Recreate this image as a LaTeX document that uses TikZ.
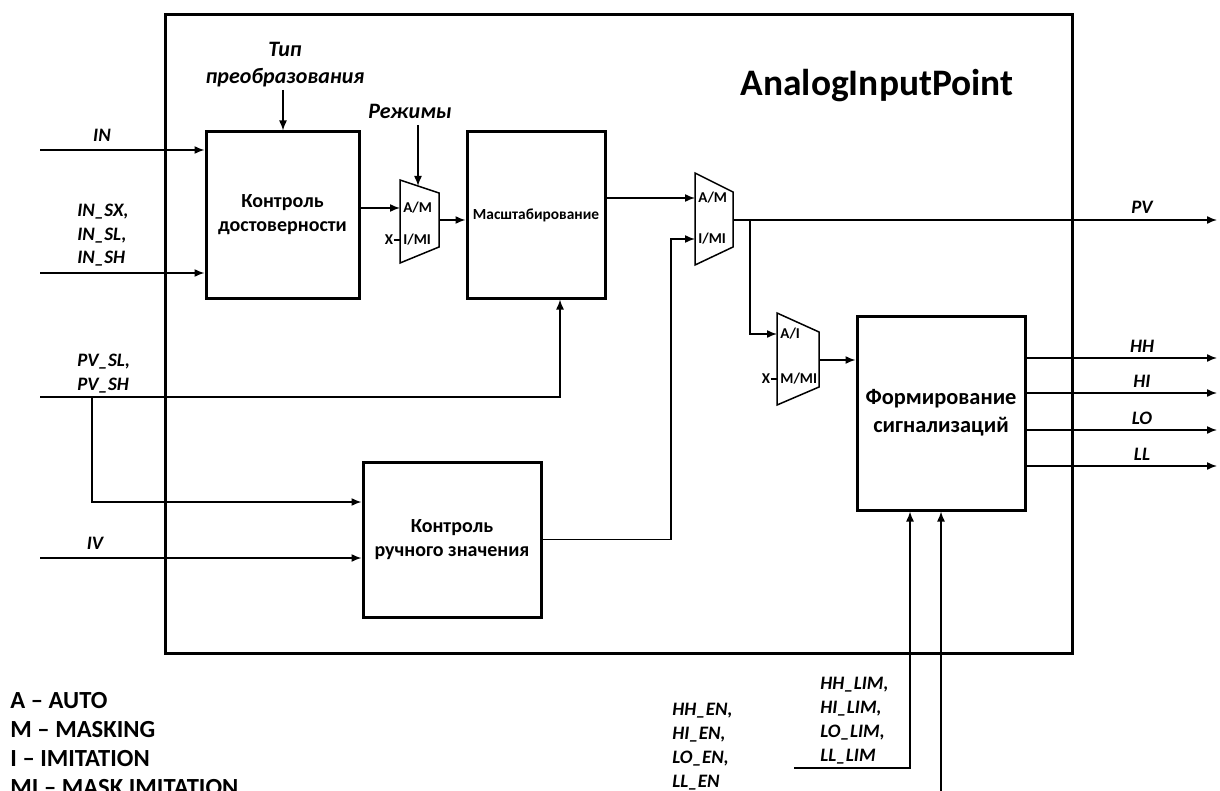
\documentclass[tikz,border=0pt]{standalone}
\usepackage{fontspec}
\setmainfont{Carlito}
\usetikzlibrary{arrows.meta}

\begin{document}
\begin{tikzpicture}[x=0.5pt,y=-0.5pt,
	blk/.style={draw,line width=1.5pt,align=center,inner sep=0pt,font=\bfseries\fontsize{10}{12}\selectfont},
	sig/.style={line width=0.75pt,-{Latex[length=5pt,width=4pt]}},
	wire/.style={line width=0.75pt},
	lbl/.style={inner sep=0pt,align=left,font=\bfseries\itshape\fontsize{9.5}{11.7}\selectfont},
	mtxt/.style={inner sep=0pt,font=\bfseries\fontsize{7.5}{8}\selectfont}]
	\useasboundingbox (0,0) rectangle (1220,791);
	
	\draw[line width=1.5pt] (165,15) rectangle (1072,653);
	\node[font=\bfseries\fontsize{18.7}{22}\selectfont] (title) at (877,86) {AnalogInputPoint};
	
	% blocks
	\node[blk,minimum width=76.5pt,minimum height=83pt] (kd) at (282.5,215) {Контроль\\достоверности};
	\node[blk,minimum width=69pt,minimum height=83pt,font=\bfseries\fontsize{7.7}{9}\selectfont] (msh) at (536,215) {Масштабирование};
	\node[blk,minimum width=89pt,minimum height=77.5pt] (krz) at (452,539.5) {Контроль\\ручного значения};
	\node[blk,minimum width=84pt,minimum height=97pt,font=\bfseries\fontsize{11.2}{14}\selectfont] (fs) at (941,413) {Формирование\\сигнализаций};
	
	% mux 1
	\draw[wire] (400,180) -- (439,193) -- (439,247) -- (400,263) -- cycle;
	\coordinate (m1a) at (400,208);
	\coordinate (m1b) at (400,240);
	\coordinate (m1o) at (439,220);
	\coordinate (m1t) at (418,186);
	\node[mtxt,anchor=west] (m1am) at (403,208) {A/M};
	\node[mtxt,anchor=west] (m1im) at (403,240) {I/MI};
	\node[mtxt] (x1) at (389,240) {X};
	\draw[wire] (x1.east) -- (m1b);
	
	% mux 2
	\draw[wire] (695,173) -- (733,192) -- (733,247) -- (695,265) -- cycle;
	\coordinate (m2a) at (695,198);
	\coordinate (m2b) at (695,239);
	\coordinate (m2o) at (733,220);
	\node[mtxt,anchor=west] (m2am) at (698,198) {A/M};
	\node[mtxt,anchor=west] (m2im) at (698,239) {I/MI};
	
	% mux 3
	\draw[wire] (777,313) -- (819,332) -- (819,387) -- (777,405) -- cycle;
	\coordinate (m3a) at (777,334);
	\coordinate (m3b) at (777,379);
	\coordinate (m3o) at (819,360);
	\node[mtxt,anchor=west] (m3ai) at (780,334) {A/I};
	\node[mtxt,anchor=west] (m3mm) at (780,379) {M/MI};
	\node[mtxt] (x3) at (766,379) {X};
	\draw[wire] (x3.east) -- (m3b);
	
	% top inputs
	\node[lbl,align=center,font=\bfseries\itshape\fontsize{11}{13.5}\selectfont] (tip) at (285,65) {Тип\\преобразования};
	\coordinate (tipa) at (283,90);
	\draw[sig] (tipa) -- (tipa |- kd.north);
	\node[lbl,font=\bfseries\itshape\fontsize{11}{13.5}\selectfont] (rez) at (410,111) {Режимы};
	\coordinate (reza) at (418,125);
	\draw[sig] (reza) -- (m1t);
	
	% main path
	\draw[sig] (kd.east |- m1a) -- (m1a);
	\draw[sig] (m1o) -- (m1o -| msh.west);
	\draw[sig] (msh.east |- m2a) -- (m2a);
	\coordinate (pvout) at (1217,220);
	\draw[sig] (m2o) -- (pvout);
	\node[lbl] (pv) at (1142,207) {PV};
	\coordinate (br) at (750,220);
	\draw[sig] (br) |- (m3a);
	\draw[sig] (m3o) -- (m3o -| fs.west);
	
	% left inputs
	\coordinate (in) at (40,150);
	\draw[sig] (in) -- (in -| kd.west);
	\node[lbl] (inl) at (102,135) {IN};
	\coordinate (insx) at (40,273);
	\draw[sig] (insx) -- (insx -| kd.west);
	\node[lbl,anchor=north west] (insxl) at (77,204) {IN\_SX,\\IN\_SL,\\IN\_SH};
	\coordinate (pvsl) at (40,397);
	\draw[sig] (pvsl) -| ([xshift=12pt]msh.south);
	\node[lbl,anchor=north west] (pvsll) at (77,354) {PV\_SL,\\PV\_SH};
	\coordinate (pvbr) at (92,397);
	\draw[sig] (pvbr) |- ([yshift=18.75pt]krz.west);
	\coordinate (iv) at (40,558);
	\draw[sig] (iv) -- (iv -| krz.west);
	\node[lbl] (ivl) at (95,543) {IV};
	
	% manual value to mux 2
	\coordinate (m2turn) at (671,239);
	\draw[sig] (krz.east) -| (m2turn) -- (m2b);
	
	% alarm outputs
	\foreach \y/\t in {358/HH,393/HI,430/LO,466/LL} {
		\draw[sig] (fs.east |- 0,\y) -- (1217,\y);
		\node[lbl] at (1142,\y-12) {\t};
	}
	
	% bottom inputs
	\coordinate (lim) at (794,768);
	\draw[sig] (lim) -| ([xshift=-15.5pt]fs.south);
	\coordinate (en) at (941,791);
	\draw[sig] (en) -- (fs.south);
	\node[lbl,anchor=north west,font=\bfseries\itshape\fontsize{9.5}{12}\selectfont] (liml) at (820,677) {HH\_LIM,\\HI\_LIM,\\LO\_LIM,\\LL\_LIM};
	\node[lbl,anchor=north west,font=\bfseries\itshape\fontsize{9.5}{12}\selectfont] (enl) at (672,703) {HH\_EN,\\HI\_EN,\\LO\_EN,\\LL\_EN};
	
	% legend
	\node[inner sep=0pt,anchor=north west,align=left,font=\bfseries\fontsize{12.3}{14.5}\selectfont] (leg) at (10,692) {A – AUTO\\M – MASKING\\I – IMITATION\\MI – MASK IMITATION};
\end{tikzpicture}
\end{document}
